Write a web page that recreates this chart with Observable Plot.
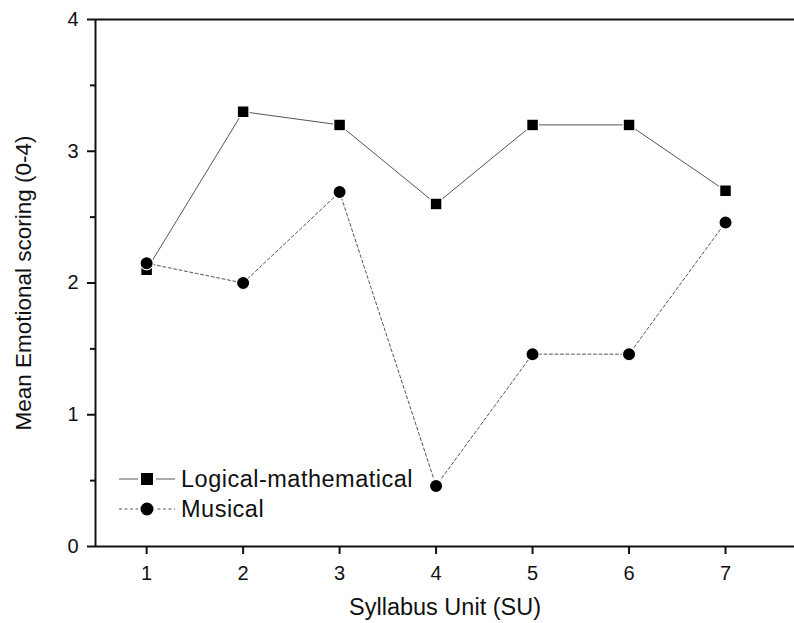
<!DOCTYPE html>
<html>
<head>
<meta charset="utf-8">
<script src="https://cdn.jsdelivr.net/npm/d3@7"></script>
<script src="https://cdn.jsdelivr.net/npm/@observablehq/plot@0.6"></script>
<style>
  html, body { margin: 0; padding: 0; background: #fff; }
  #wrap { position: relative; width: 794px; height: 623px; overflow: hidden; font-family: "Liberation Sans", Arial, sans-serif; }
  #legend { position: absolute; left: 118px; top: 464px; font-size: 23.5px; letter-spacing: 0.5px; color: #111; }
  #legend .row { display: flex; align-items: center; height: 30px; }
  #legend svg { margin-right: 5px; }
</style>
</head>
<body>
<div id="wrap"></div>
<script>
const units = [1, 2, 3, 4, 5, 6, 7];
const logical = [2.1, 3.3, 3.2, 2.6, 3.2, 3.2, 2.7];
const musical = [2.15, 2.0, 2.69, 0.46, 1.46, 1.46, 2.46];
const seriesNames = ["Logical-mathematical", "Musical"];
const yMajor = [0, 1, 2, 3, 4];
const yMinor = [0.5, 1.5, 2.5, 3.5];
const xDomain = [0.47, 7.715];
const yDomain = [0, 4];

const logData = units.map((u, i) => ({u, v: logical[i]}));
const musData = units.map((u, i) => ({u, v: musical[i]}));

const font = "Liberation Sans, Arial, sans-serif";
const plot = Plot.plot({
  width: 794,
  height: 623,
  marginLeft: 95,
  marginRight: 0,
  marginTop: 19,
  marginBottom: 77,
  style: {fontFamily: font, color: "#111", background: "#fff"},
  x: {domain: xDomain},
  y: {domain: yDomain},
  marks: [
    Plot.line(logData, {x: "u", y: "v", stroke: "#555", strokeWidth: 1}),
    Plot.line(musData, {x: "u", y: "v", stroke: "#555", strokeWidth: 1, strokeDasharray: "3,2.5"}),
    Plot.dot(logData, {x: "u", y: "v", symbol: "square", r: 6.6, fill: "#000", stroke: "#fff", strokeWidth: 1.2}),
    Plot.dot(musData, {x: "u", y: "v", symbol: "circle", r: 6.6, fill: "#000", stroke: "#fff", strokeWidth: 1.2}),
    Plot.ruleY([yDomain[0]], {stroke: "#111", strokeWidth: 2}),
    Plot.ruleY([yDomain[1]], {stroke: "#111", strokeWidth: 2}),
    Plot.ruleX([xDomain[0]], {stroke: "#111", strokeWidth: 2}),
    Plot.axisY({ticks: yMajor, tickSize: 8, tickPadding: 9, tickFormat: d3.format("d"), fontSize: 20, strokeWidth: 2, stroke: "#111", label: null}),
    Plot.axisY({ticks: yMinor, tickSize: 5, text: null, strokeWidth: 2, stroke: "#111", label: null}),
    Plot.axisX({ticks: units, tickSize: 8, tickPadding: 11, tickFormat: d3.format("d"), fontSize: 20, strokeWidth: 2, stroke: "#111", label: null}),
    Plot.axisY({ticks: [], label: "Mean Emotional scoring (0-4)", labelAnchor: "center", labelArrow: "none", labelOffset: 80, fontSize: 22.5}),
    Plot.axisX({ticks: [], label: "Syllabus Unit (SU)", labelAnchor: "center", labelArrow: "none", labelOffset: 68, fontSize: 23.5, dx: -8})
  ]
});
const wrap = document.getElementById("wrap");
wrap.appendChild(plot);

// legend
const legend = document.createElement("div");
legend.id = "legend";
const styles = [{dash: null, sym: "square"}, {dash: "3,2.5", sym: "circle"}];
seriesNames.forEach((name, i) => {
  const row = document.createElement("div");
  row.className = "row";
  const s = styles[i];
  const mk = s.sym === "square"
    ? '<rect x="23" y="9" width="12" height="12" fill="#000"/>'
    : '<circle cx="29" cy="15" r="6.5" fill="#000"/>';
  row.innerHTML = `<svg width="58" height="30"><line x1="1" x2="57" y1="15" y2="15" stroke="#555" stroke-width="1" ${s.dash ? `stroke-dasharray="${s.dash}"` : ""}/>
    <rect x="20" y="7" width="18" height="16" fill="#fff"/>${mk}</svg><span>${name}</span>`;
  legend.appendChild(row);
});
wrap.appendChild(legend);
</script>
</body>
</html>
